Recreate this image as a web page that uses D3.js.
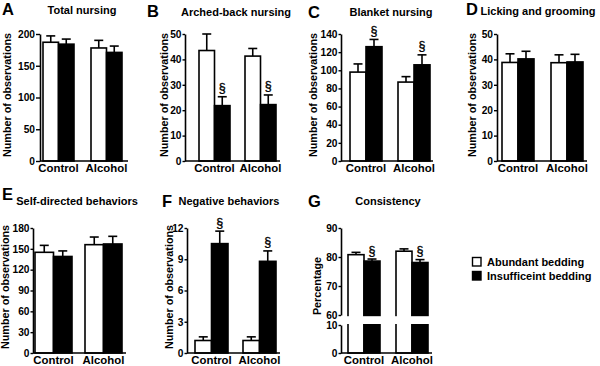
<!DOCTYPE html>
<html><head><meta charset="utf-8">
<script src="https://cdn.jsdelivr.net/npm/d3@7"></script>
<style>
body{margin:0;background:#fff;}
svg{display:block;font-family:"Liberation Sans",Arial,sans-serif;}
text{fill:#000;}
</style></head>
<body>
<svg id="c" width="600" height="366"></svg>
<script>
// ---------- DATA ----------
const groups = ["Control", "Alcohol"];
const series = ["Abundant bedding", "Insufficeint bedding"];

// [group][series] means and SEMs
const totalNursingMean = [[187, 184], [178, 171]];
const totalNursingSEM  = [[10, 8], [12, 10]];
const totalNursingSig  = [[0, 0], [0, 0]];
const totalNursingTicks = [0, 50, 100, 150, 200];

const archedMean = [[43.5, 21.8], [41.3, 22.2]];
const archedSEM  = [[6.5, 3.5], [3.0, 3.8]];
const archedSig  = [[0, 1], [0, 1]];
const archedTicks = [0, 10, 20, 30, 40, 50];

const blanketMean = [[98, 126], [87, 106]];
const blanketSEM  = [[9, 8], [6, 11]];
const blanketSig  = [[0, 1], [0, 1]];
const blanketTicks = [0, 20, 40, 60, 80, 100, 120, 140];

const lickingMean = [[38.8, 40.2], [38.7, 39.0]];
const lickingSEM  = [[3.4, 3.0], [3.1, 3.0]];
const lickingSig  = [[0, 0], [0, 0]];
const lickingTicks = [0, 10, 20, 30, 40, 50];

const selfMean = [[145, 139], [156, 157]];
const selfSEM  = [[10, 8], [11, 11]];
const selfSig  = [[0, 0], [0, 0]];
const selfTicks = [0, 30, 60, 90, 120, 150, 180];

const negativeMean = [[1.2, 10.5], [1.2, 8.8]];
const negativeSEM  = [[0.35, 1.2], [0.35, 1.0]];
const negativeSig  = [[0, 1], [0, 1]];
const negativeTicks = [0, 3, 6, 9, 12];

const consistencyMean = [[80.8, 78.6], [82.0, 78.1]];
const consistencySEM  = [[0.8, 0.7], [0.8, 1.0]];
const consistencySig  = [[0, 1], [0, 1]];
const consistencyTicksUpper = [60, 70, 80, 90];
const consistencyTicksLower = [0, 10];

const seriesFill = ["#ffffff", "#000000"];

// ---------- LAYOUT ----------
const svg = d3.select("#c");

function panel(o) {
  const g = svg.append("g");
  g.append("text").attr("x", o.letterX).attr("y", o.letterY).attr("fill", "#000")
    .attr("font-size", 16.5).attr("font-weight", "bold").text(o.letter);
  g.append("text").attr("x", o.titleX).attr("y", o.titleY).attr("fill", "#000")
    .attr("text-anchor", "middle").attr("font-size", 11).attr("font-weight", "bold").text(o.title);
  g.append("text").attr("transform", `translate(${o.ylabX},${o.ylabY}) rotate(-90)`).attr("fill", "#000")
    .attr("text-anchor", "middle").attr("font-size", 10.8).attr("font-weight", "bold").text(o.ylabel);

  const W = o.gx1 - o.gx0;
  const step = W - o.bw;
  const x = d3.scaleBand().domain(groups).range([o.gx0, o.gx1]).paddingInner(1 - o.bw / step).paddingOuter(0);
  const xs = d3.scaleBand().domain(series).range([0, x.bandwidth()]);

  let yVal, yBottom;
  if (o.broken) {
    const yU = d3.scaleLinear().domain([60, 90]).range([o.breakTop, o.yTop]);
    const yL = d3.scaleLinear().domain([0, 10]).range([o.yBot, o.breakBot]);
    yVal = v => v >= 60 ? yU(v) : yL(v);
    yBottom = yL(0);
    o.yU = yU; o.yL = yL;
  } else {
    const y = d3.scaleLinear().domain([0, o.max]).range([o.yBot, o.yTop]);
    yVal = y; yBottom = y(0);
    o.y = y;
  }

  const cells = [];
  groups.forEach((gr, gi) => series.forEach((s, si) => {
    cells.push({gr, s, si, m: o.mean[gi][si], e: o.sem[gi][si], sig: o.sig[gi][si]});
  }));

  g.selectAll("rect.bar").data(cells).join("rect")
    .attr("x", d => x(d.gr) + xs(d.s))
    .attr("y", d => yVal(d.m))
    .attr("width", xs.bandwidth())
    .attr("height", d => yBottom - yVal(d.m))
    .attr("fill", d => seriesFill[d.si])
    .attr("stroke", "#000").attr("stroke-width", 1.6);

  const cx = d => x(d.gr) + xs(d.s) + xs.bandwidth() / 2;
  g.selectAll("line.err").data(cells).join("line")
    .attr("x1", cx).attr("x2", cx)
    .attr("y1", d => yVal(d.m)).attr("y2", d => yVal(d.m + d.e))
    .attr("stroke", "#000").attr("stroke-width", 1.6);
  g.selectAll("line.cap").data(cells).join("line")
    .attr("x1", d => cx(d) - 4.5).attr("x2", d => cx(d) + 4.5)
    .attr("y1", d => yVal(d.m + d.e)).attr("y2", d => yVal(d.m + d.e))
    .attr("stroke", "#000").attr("stroke-width", 1.6);
  g.selectAll("text.sig").data(cells.filter(d => d.sig)).join("text")
    .attr("x", cx).attr("y", d => yVal(d.m + d.e) - 4.5)
    .attr("text-anchor", "middle").attr("font-size", 12.5)
    .attr("fill", "#000").attr("stroke", "#000").attr("stroke-width", 0.35).text("§");

  if (o.broken) {
    g.append("rect").attr("x", o.axisX - 2).attr("y", o.breakTop + 1.2)
      .attr("width", o.axisEnd - o.axisX + 4).attr("height", o.breakBot - o.breakTop - 2.2)
      .attr("fill", "#fff");
  }

  function styleAxis(sel) {
    sel.selectAll("path.domain").attr("stroke-width", 1.6);
    sel.selectAll(".tick line").attr("stroke-width", 1.4);
    sel.selectAll(".tick text").attr("font-size", 10.2).attr("font-weight", "bold")
      .attr("font-family", "Liberation Sans, Arial, sans-serif").attr("fill", "#000");
  }
  const mk = (sc, tv) => d3.axisLeft(sc).tickValues(tv).tickSize(o.tick || 3).tickSizeOuter(0).tickPadding(1);
  if (o.broken) {
    styleAxis(g.append("g").attr("transform", `translate(${o.axisX},0)`).call(mk(o.yU, o.ticksU)));
    styleAxis(g.append("g").attr("transform", `translate(${o.axisX},0)`).call(mk(o.yL, o.ticksL)));
  } else {
    styleAxis(g.append("g").attr("transform", `translate(${o.axisX},0)`).call(mk(o.y, o.ticks)));
  }
  g.append("line").attr("x1", o.axisX).attr("x2", o.axisEnd)
    .attr("y1", yBottom).attr("y2", yBottom).attr("stroke", "#000").attr("stroke-width", 1.6);
  g.selectAll("text.cat").data(groups).join("text")
    .attr("x", d => x(d) + x.bandwidth() / 2).attr("y", yBottom + 11)
    .attr("text-anchor", "middle").attr("font-size", 11.4).attr("font-weight", "bold")
    .attr("fill", "#000").text(d => d);
}

const NOBS = "Number of observations";
panel({letter: "A", letterX: 2, letterY: 15, title: "Total nursing", titleX: 82, titleY: 14,
  ylabel: NOBS, ylabX: 10.5, ylabY: 95, axisX: 40, axisEnd: 128, yTop: 34, yBot: 161, tick: 4,
  gx0: 43, gx1: 122, bw: 31, max: 200, ticks: totalNursingTicks,
  mean: totalNursingMean, sem: totalNursingSEM, sig: totalNursingSig});
panel({letter: "B", letterX: 147, letterY: 17, title: "Arched-back nursing", titleX: 236, titleY: 16,
  ylabel: NOBS, ylabX: 168, ylabY: 95, axisX: 185, axisEnd: 280, yTop: 34, yBot: 161, tick: 2.5,
  gx0: 199, gx1: 276, bw: 31, max: 50, ticks: archedTicks,
  mean: archedMean, sem: archedSEM, sig: archedSig});
panel({letter: "C", letterX: 308, letterY: 18, title: "Blanket nursing", titleX: 391, titleY: 16,
  ylabel: NOBS, ylabX: 317, ylabY: 95, axisX: 341, axisEnd: 433, yTop: 34, yBot: 161, tick: 2.5,
  gx0: 350, gx1: 430, bw: 32, max: 140, ticks: blanketTicks,
  mean: blanketMean, sem: blanketSEM, sig: blanketSig});
panel({letter: "D", letterX: 466, letterY: 15, title: "Licking and grooming", titleX: 538, titleY: 15,
  ylabel: NOBS, ylabX: 476, ylabY: 95, axisX: 497, axisEnd: 587, yTop: 34, yBot: 161, tick: 3,
  gx0: 502, gx1: 583, bw: 32, max: 50, ticks: lickingTicks,
  mean: lickingMean, sem: lickingSEM, sig: lickingSig});
panel({letter: "E", letterX: 2, letterY: 200, title: "Self-directed behaviors", titleX: 77, titleY: 205,
  ylabel: NOBS, ylabX: 9, ylabY: 287, axisX: 33, axisEnd: 126, yTop: 228, yBot: 353, tick: 2.5,
  gx0: 35, gx1: 122, bw: 37, max: 180, ticks: selfTicks,
  mean: selfMean, sem: selfSEM, sig: selfSig});
panel({letter: "F", letterX: 162, letterY: 207, title: "Negative behaviors", titleX: 229, titleY: 205,
  ylabel: NOBS, ylabX: 173, ylabY: 287, axisX: 187, axisEnd: 280, yTop: 228, yBot: 353, tick: 2.5,
  gx0: 195, gx1: 276, bw: 33, max: 12, ticks: negativeTicks,
  mean: negativeMean, sem: negativeSEM, sig: negativeSig});
panel({letter: "G", letterX: 308, letterY: 207, title: "Consistency", titleX: 388, titleY: 205,
  ylabel: "Percentage", ylabX: 321, ylabY: 286, axisX: 341, axisEnd: 432, yTop: 228, yBot: 353, tick: 2.5,
  breakTop: 315, breakBot: 325, broken: true,
  gx0: 348, gx1: 428, bw: 32, ticksU: consistencyTicksUpper, ticksL: consistencyTicksLower,
  mean: consistencyMean, sem: consistencySEM, sig: consistencySig});

// legend
const leg = svg.append("g").selectAll("g").data(series).join("g")
  .attr("transform", (d, i) => `translate(472,${257 + i * 14})`);
leg.append("rect").attr("x", 0.5).attr("y", 0.5).attr("width", 8.5).attr("height", 8.5)
  .attr("fill", (d, i) => seriesFill[i]).attr("stroke", "#000").attr("stroke-width", 1.4);
leg.append("text").attr("x", 15).attr("y", 8.6).attr("font-size", 11).attr("font-weight", "bold")
  .attr("fill", "#000").text(d => d);
</script>
</body></html>
